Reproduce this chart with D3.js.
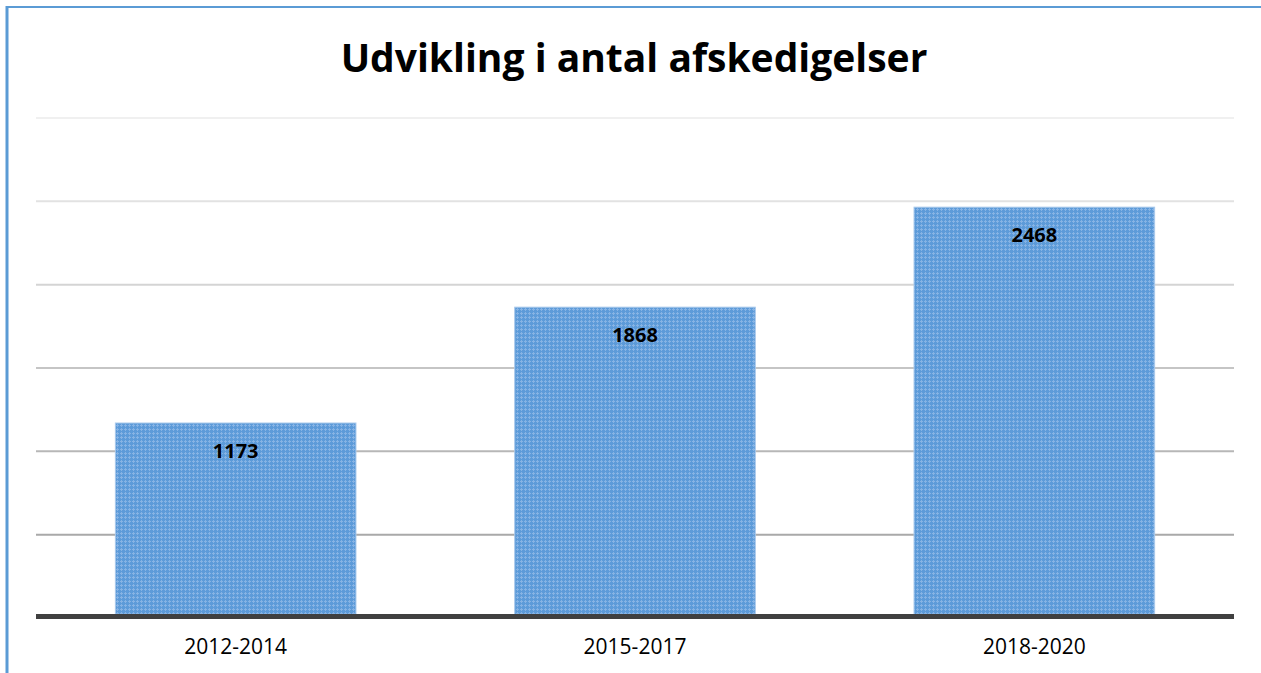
<!DOCTYPE html>
<html>
<head>
<meta charset="utf-8">
<script src="https://cdn.jsdelivr.net/npm/d3@7"></script>
<style>
  body { margin: 0; background: #fff; }
  svg { display: block; font-family: "Open Sans", sans-serif; }
</style>
</head>
<body>
<div id="chart"></div>
<script>
var periods = ["2012-2014", "2015-2017", "2018-2020"];
var dismissals = [1173, 1868, 2468];
var gridTicks = [500, 1000, 1500, 2000, 2500, 3000];
var titleText = "Udvikling i antal afskedigelser";

var width = 1261, height = 673;
var plotLeft = 36, plotRight = 1234, plotTop = 118, plotBottom = 618;

var svg = d3.select("#chart").append("svg")
    .attr("width", width)
    .attr("height", height);

// dotted blue fill like the office chart
var defs = svg.append("defs");
var pat = defs.append("pattern")
    .attr("id", "dots")
    .attr("patternUnits", "userSpaceOnUse")
    .attr("width", 4).attr("height", 4);
pat.append("rect").attr("width", 4).attr("height", 4).attr("fill", "#5d9bd9");
pat.append("rect").attr("x", 1).attr("y", 0).attr("width", 1).attr("height", 3).attr("fill", "#86b3e4");
pat.append("rect").attr("x", 0).attr("y", 1).attr("width", 3).attr("height", 1).attr("fill", "#86b3e4");

// frame (only left and top visible)
svg.append("line").attr("x1", 7).attr("x2", 7).attr("y1", 6).attr("y2", height)
    .attr("stroke", "#5b9bd5").attr("stroke-width", 3);
svg.append("line").attr("x1", 6).attr("x2", width).attr("y1", 7).attr("y2", 7)
    .attr("stroke", "#5b9bd5").attr("stroke-width", 2);

var x = d3.scaleBand()
    .domain(periods)
    .range([plotLeft, plotRight])
    .paddingInner(0.395)
    .paddingOuter(0.1975);

var y = d3.scaleLinear()
    .domain([0, 3000])
    .range([plotBottom, plotTop]);

var gridColor = d3.scaleLinear()
    .domain([500, 3000])
    .range(["#a9a9a9", "#f0f0f0"]);

svg.append("g").selectAll("line")
    .data(gridTicks)
    .join("line")
    .attr("x1", plotLeft).attr("x2", plotRight)
    .attr("y1", d => y(d)).attr("y2", d => y(d))
    .attr("stroke", d => gridColor(d))
    .attr("stroke-width", 2);

svg.append("g").selectAll("rect")
    .data(dismissals)
    .join("rect")
    .attr("x", (d, i) => x(periods[i]) + 0.5)
    .attr("y", d => y(d) + 0.5)
    .attr("width", x.bandwidth() - 1)
    .attr("height", d => y(0) - y(d))
    .attr("fill", "url(#dots)")
    .attr("stroke", "#a9c9ec")
    .attr("stroke-width", 1);

svg.append("g").selectAll("text")
    .data(dismissals)
    .join("text")
    .attr("x", (d, i) => x(periods[i]) + x.bandwidth() / 2)
    .attr("y", d => y(d) + 35)
    .attr("text-anchor", "middle")
    .attr("font-size", 20)
    .attr("font-weight", "bold")
    .attr("fill", "#000")
    .text(d => d);

// base line
svg.append("line")
    .attr("x1", plotLeft).attr("x2", plotRight)
    .attr("y1", plotBottom - 1.5).attr("y2", plotBottom - 1.5)
    .attr("stroke", "#404040").attr("stroke-width", 5);

var xAxis = svg.append("g")
    .attr("transform", "translate(0," + plotBottom + ")")
    .call(d3.axisBottom(x).tickSize(0).tickPadding(21));
xAxis.select(".domain").remove();
xAxis.selectAll("text")
    .attr("font-family", "Open Sans, sans-serif")
    .attr("font-size", 21)
    .attr("fill", "#000");

svg.append("text")
    .attr("x", 634)
    .attr("y", 72)
    .attr("text-anchor", "middle")
    .attr("font-size", 39)
    .attr("font-weight", "bold")
    .attr("fill", "#000")
    .text(titleText);
</script>
</body>
</html>
